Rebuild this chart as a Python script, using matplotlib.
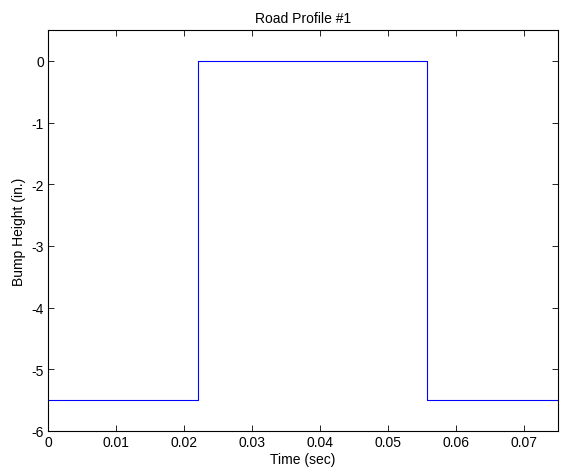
import numpy as np
import matplotlib
matplotlib.use('Agg')
import matplotlib.pyplot as plt

plt.rcParams['font.family'] = ['Liberation Sans', 'DejaVu Sans']
plt.rcParams['axes.unicode_minus'] = False

# road profile breakpoints (sec, in.)
time = [0.0, 0.0221, 0.0221, 0.0558, 0.0558, 0.075]
height = [-5.5, -5.5, 0.0, 0.0, -5.5, -5.5]

xticks = [0, 0.01, 0.02, 0.03, 0.04, 0.05, 0.06, 0.07]
xlabels = ['0', '0.01', '0.02', '0.03', '0.04', '0.05', '0.06', '0.07']
yticks = [-6, -5, -4, -3, -2, -1, 0]

fig = plt.figure(figsize=(5.65, 4.77), dpi=100)
ax = fig.add_axes([48/565, 45/477, 510/565, 401/477])

ax.plot(time, height, color='blue', linewidth=0.8)

ax.set_xlim(0, 0.075)
ax.set_ylim(-6, 0.5)
ax.set_xticks(xticks)
ax.set_xticklabels(xlabels)
ax.set_yticks(yticks)
ax.tick_params(direction='in', top=True, right=True, labelsize=10,
               length=4, width=0.6, pad=3)
for s in ax.spines.values():
    s.set_linewidth(0.8)

ax.set_title('Road Profile #1', fontsize=10, pad=6)
ax.set_xlabel('Time (sec)', fontsize=10, labelpad=2)
ax.set_ylabel('Bump Height (in.)', fontsize=10, labelpad=4)

fig.savefig('out.png', dpi=100)
